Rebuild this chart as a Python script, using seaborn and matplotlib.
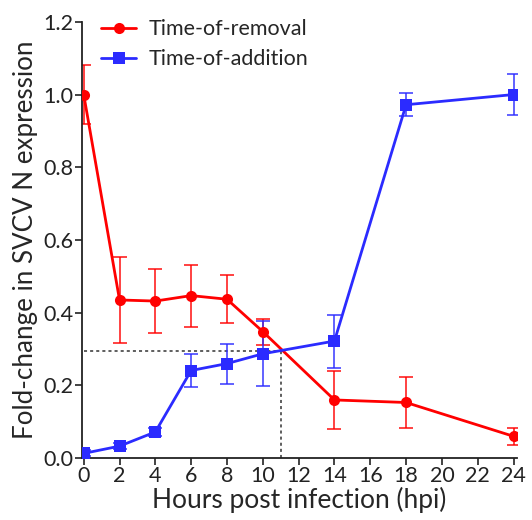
import seaborn as sns
import pandas as pd
import numpy as np
import matplotlib.pyplot as plt

hours = [0, 2, 4, 6, 8, 10, 14, 18, 24]
removal = [1.00, 0.435, 0.432, 0.447, 0.437, 0.348, 0.160, 0.153, 0.060]
removal_err = [0.08, 0.117, 0.088, 0.085, 0.066, 0.036, 0.080, 0.070, 0.024]
addition = [0.013, 0.033, 0.072, 0.241, 0.260, 0.287, 0.322, 0.972, 1.000]
addition_err = [0.008, 0.008, 0.010, 0.045, 0.055, 0.090, 0.073, 0.032, 0.057]
cross_x = 11
cross_y = 0.295

sns.set_style("ticks")
plt.rcParams['font.family'] = ['Lato', 'DejaVu Sans']

df = pd.DataFrame({
    "hpi": hours * 2,
    "fold": removal + addition,
    "series": ["Time-of-removal"] * len(hours) + ["Time-of-addition"] * len(hours),
})
colors = {"Time-of-removal": "#ff0000", "Time-of-addition": "#2b2bff"}

fig = plt.figure(figsize=(5.32, 5.2), dpi=100)
ax = fig.add_axes([0.154, 0.119, 0.818, 0.839])

# reference lines
ax.plot([0, cross_x], [cross_y, cross_y], ls=(0, (2, 2)), color="#333333", lw=1.1, zorder=1)
ax.plot([cross_x, cross_x], [0, cross_y], ls=(0, (2, 2)), color="#333333", lw=1.1, zorder=1)

ax.errorbar(hours, removal, yerr=removal_err, fmt="none", ecolor="#ff0000",
            elinewidth=1.3, capsize=5, capthick=1.3, alpha=0.8, zorder=2)
ax.errorbar(hours, addition, yerr=addition_err, fmt="none", ecolor="#2b2bff",
            elinewidth=1.3, capsize=5, capthick=1.3, alpha=0.8, zorder=2)

sns.lineplot(data=df, x="hpi", y="fold", hue="series", style="series",
             markers={"Time-of-removal": "o", "Time-of-addition": "s"},
             dashes=False, palette=colors, markersize=8, markeredgewidth=0,
             linewidth=2, ax=ax, zorder=3)

ax.set_xlim(-0.1, 24.2)
ax.set_ylim(0, 1.2)
ax.set_xticks(range(0, 25, 2))
ax.set_yticks(np.arange(0, 1.21, 0.2))
ax.set_yticklabels([f"{v:.1f}" for v in np.arange(0, 1.21, 0.2)])
ax.tick_params(labelsize=15.5, length=5, width=1.2, colors="#222222", pad=1)
for s in ["left", "bottom"]:
    ax.spines[s].set_linewidth(1.3)
    ax.spines[s].set_color("#222222")
sns.despine(ax=ax)

ax.set_xlabel("Hours post infection (hpi)", fontsize=19, labelpad=0)
ax.set_ylabel("Fold-change in SVCV N expression", fontsize=18.7, labelpad=4)

leg = ax.legend(loc="upper left", bbox_to_anchor=(0.0, 1.05), frameon=False,
                fontsize=15.5, handlelength=1.6, handletextpad=0.6,
                labelspacing=0.45, title=None)

plt.savefig("out.png", dpi=100)
